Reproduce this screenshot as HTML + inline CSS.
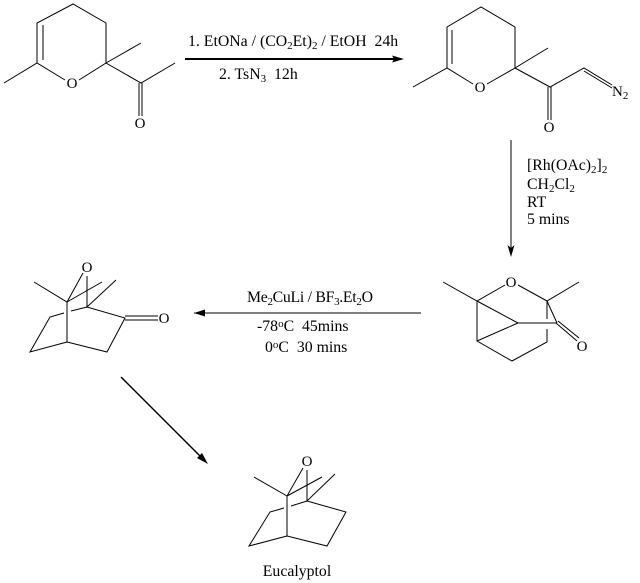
<!DOCTYPE html>
<html><head><meta charset="utf-8"><style>
html,body{margin:0;padding:0;background:#fff;width:640px;height:583px;overflow:hidden}
svg{display:block}
text{font-family:"Liberation Serif",serif;font-size:15.8px;fill:#000}
.a{text-anchor:middle;font-size:15px}
.s{font-size:11px}
</style></head><body>
<svg width="640" height="583" viewBox="0 0 640 583" xmlns="http://www.w3.org/2000/svg">
<g fill="none" stroke="#000" stroke-width="1">
<!-- molecule 1 -->
<path d="M37 63V23L73 4L106 23V63L79 80M65 80L37 63L4 83M43 25V60M106 63L141 43M106 63L141 83L175 63M139 83V116M142 83V116"/>
<!-- molecule 2 -->
<path d="M447 68V27L481 7L515 27V68L487 84M473 84L447 68L413 87M452 30V64M515 68L548 48M515 68L550 87L584 68L612 85M584 71L612 88M548 87V120M551 87V120"/>
<!-- molecule 3 -->
<path d="M505 285L477 301L443 282M518 285L547 301L579 282M477 301V341L512 361L547 342V329M547 319V301L557 323M477 301L518 323H557M477 341L518 323M556 323L577 341M558 321L579 338"/>
<!-- molecule 4 -->
<path d="M83 273L67 302L34 282M67 302L102 282M87 276V307L116 280M67 302V342L107 352L125 318L87 307L71 311M64 313L50 317L30 352L67 342M125 316H158M125 320H158"/>
<!-- molecule 5 -->
<path d="M303 468L287 496L254 477M287 496L322 477M307 470V501L335 474M287 496V536L327 546L346 512L307 501L291 506M284 508L270 512L249 546L287 536"/>
<!-- arrows -->
<path d="M194 313H421M511 140V250"/>
<path d="M121 377L203 459" stroke-width="1.5"/>
<path d="M185 59H398" stroke-width="2"/>
</g>
<g fill="#000">
<path d="M404 59L392 55.5L394 59L392 62.5Z"/>
<path d="M194 313L205 309.5V316.5Z"/>
<path d="M511 257L507.5 245L511 248L514.5 245Z"/>
<path d="M208 464L197 458L202 453Z"/>
</g>
<g>
<text class="a" x="72" y="88">O</text>
<text class="a" x="140" y="128">O</text>
<text class="a" x="480" y="92">O</text>
<text class="a" x="549" y="132">O</text>
<text x="612" y="96" style="font-size:15px">N<tspan class="s" dy="3">2</tspan></text>
<text class="a" x="511" y="287">O</text>
<text class="a" x="582" y="351">O</text>
<text class="a" x="87" y="272">O</text>
<text class="a" x="164" y="323">O</text>
<text class="a" x="307" y="466">O</text>

<text x="188" y="46">1. EtONa / (CO<tspan class="s" dy="3">2</tspan><tspan dy="-3">Et)</tspan><tspan class="s" dy="3">2</tspan><tspan dy="-3"> / EtOH&#160;&#160;24h</tspan></text>
<text x="219" y="79">2. TsN<tspan class="s" dy="3">3</tspan><tspan dy="-3">&#160;&#160;12h</tspan></text>

<text x="527" y="170">[Rh(OAc)<tspan class="s" dy="3">2</tspan><tspan dy="-3">]</tspan><tspan class="s" dy="3">2</tspan></text>
<text x="527" y="189">CH<tspan class="s" dy="3">2</tspan><tspan dy="-3">Cl</tspan><tspan class="s" dy="3">2</tspan></text>
<text x="527" y="207">RT</text>
<text x="527" y="224">5 mins</text>

<text x="247" y="302" letter-spacing="-0.3">Me<tspan class="s" dy="3">2</tspan><tspan dy="-3">CuLi / BF</tspan><tspan class="s" dy="3">3</tspan><tspan dy="-3">.Et</tspan><tspan class="s" dy="3">2</tspan><tspan dy="-3">O</tspan></text>
<text x="257" y="331">-78<tspan class="s" dy="-4">o</tspan><tspan dy="4">C&#160;&#160;45mins</tspan></text>
<text x="265" y="352">0<tspan class="s" dy="-4">o</tspan><tspan dy="4">C&#160;&#160;30 mins</tspan></text>

<text x="297" y="576" text-anchor="middle">Eucalyptol</text>
</g>
</svg>
</body></html>
